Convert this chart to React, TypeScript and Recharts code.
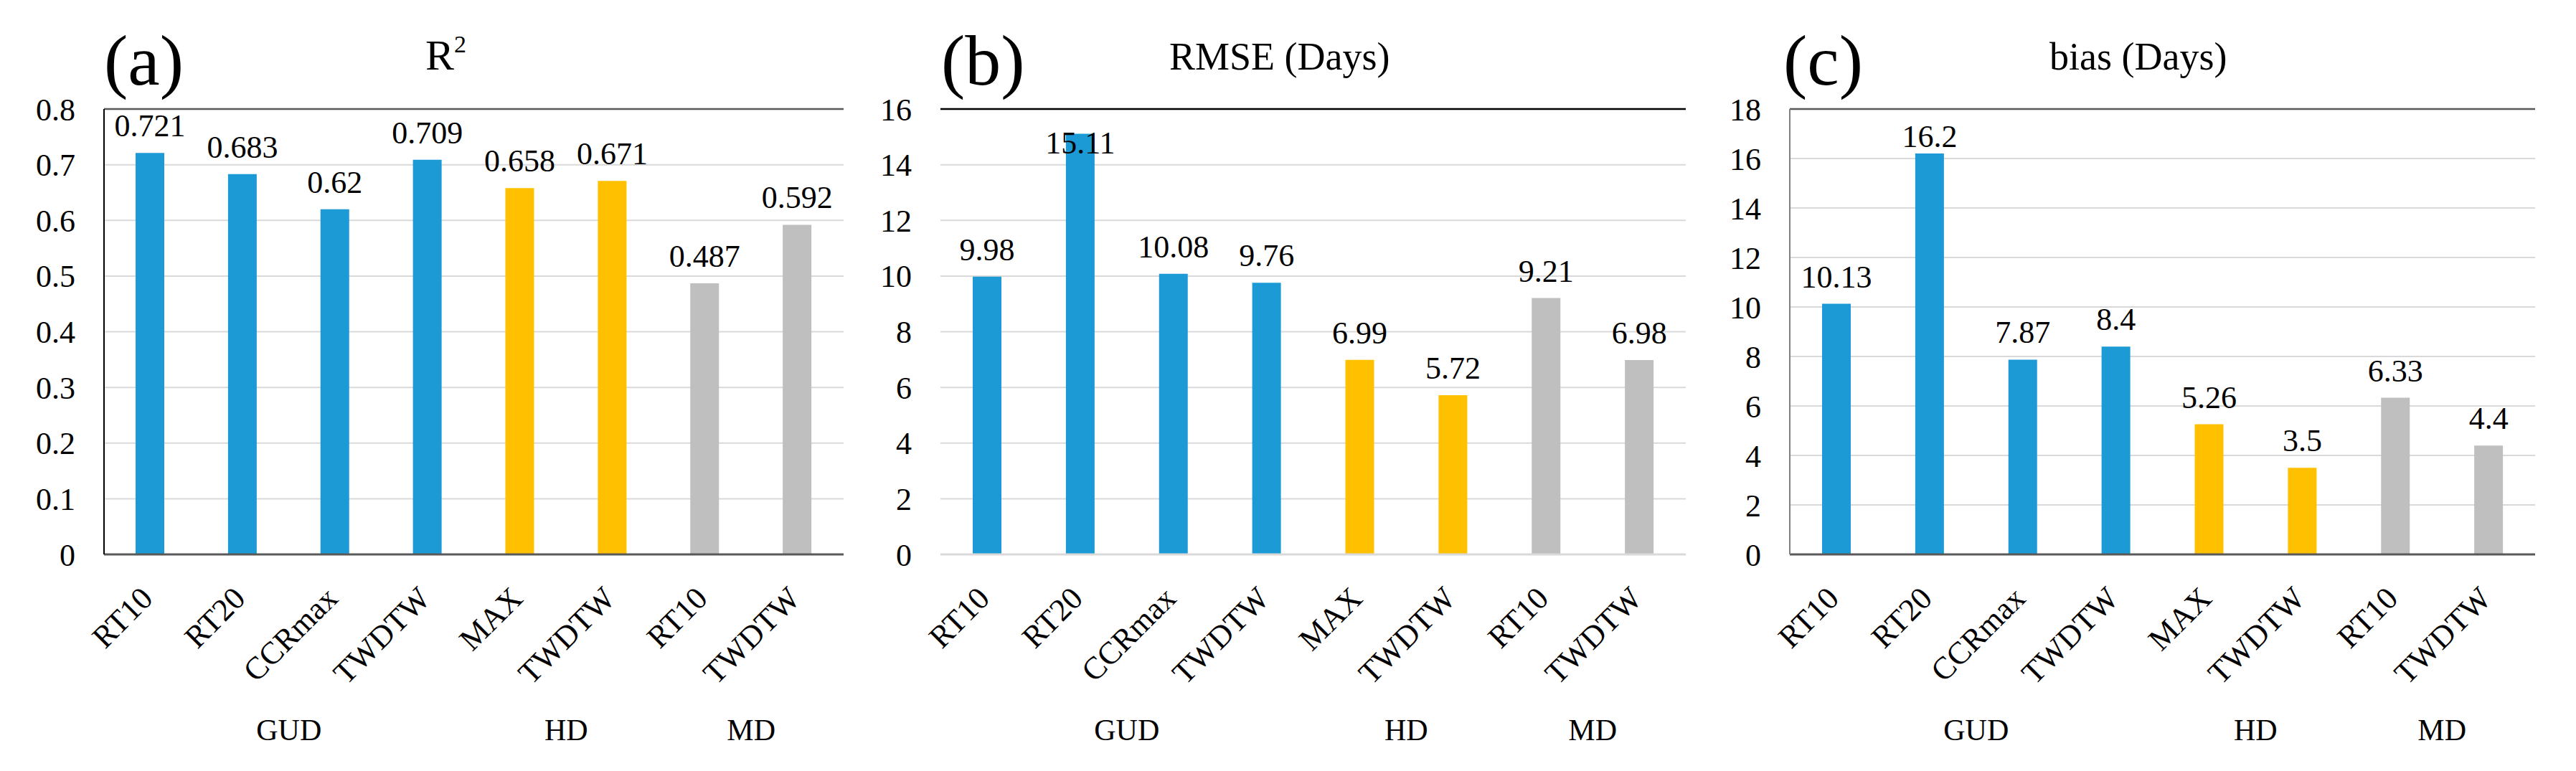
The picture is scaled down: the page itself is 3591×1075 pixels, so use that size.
import { BarChart, Bar, XAxis, YAxis, CartesianGrid, Cell, LabelList, ReferenceLine } from 'recharts';

// methods on the x axis, phase group of each bar
const methods = ['RT10', 'RT20', 'CCRmax', 'TWDTW', 'MAX', 'TWDTW', 'RT10', 'TWDTW'];
const phases = ['GUD', 'GUD', 'GUD', 'GUD', 'HD', 'HD', 'MD', 'MD'];
const groupNames = ['GUD', 'HD', 'MD'];

const r2Values = [0.721, 0.683, 0.62, 0.709, 0.658, 0.671, 0.487, 0.592];
const rmseValues = [9.98, 15.11, 10.08, 9.76, 6.99, 5.72, 9.21, 6.98];
const biasValues = [10.13, 16.2, 7.87, 8.4, 5.26, 3.5, 6.33, 4.4];

const r2Ticks = [0, 0.1, 0.2, 0.3, 0.4, 0.5, 0.6, 0.7, 0.8];
const rmseTicks = [0, 2, 4, 6, 8, 10, 12, 14, 16];
const biasTicks = [0, 2, 4, 6, 8, 10, 12, 14, 16, 18];

const phaseColors: Record<string, string> = { GUD: '#1C9AD6', HD: '#FFC000', MD: '#BFBFBF' };
const FONT = 'Liberation Serif, Times New Roman, serif';

// first index and size of each phase group
const groupInfo = groupNames.map(g => {
  const idx = phases.map((p, i) => (p === g ? i : -1)).filter(i => i >= 0);
  return { name: g, first: idx[0], size: idx.length };
});

const MethodTick = (props: any) => {
  const { x, y, payload } = props;
  const px = Number(x) + 6;
  const py = Number(y) + 64;
  return (
    <text x={px} y={py} transform={`rotate(-45, ${px}, ${py})`} textAnchor="end"
      fontFamily={FONT} fontSize={44} fill="#000">
      {methods[payload.value]}
    </text>
  );
};

// group label sits under the middle of its group of bars
const groupTick = (band: number) => (props: any) => {
  const { x, y, payload } = props;
  const g = groupInfo.find(gi => gi.first === payload.value);
  if (!g) return <g />;
  const cx = Number(x) + ((g.size - 1) * band) / 2;
  return (
    <text x={cx} y={Number(y) + 59} textAnchor="middle" fontFamily={FONT} fontSize={42} fill="#000">
      {g.name}
    </text>
  );
};

const valueLabel = (floor: number) => (props: any) => {
  const { x, y, width, value } = props;
  const baseline = Math.max(Number(y) - 23, floor);
  return (
    <text x={Number(x) + Number(width) / 2} y={baseline} textAnchor="middle" fontFamily={FONT} fontSize={44} fill="#000">
      {value}
    </text>
  );
};

interface PanelProps {
  left: number;
  width: number;
  yAxisWidth: number;
  rightMargin: number;
  values: number[];
  ticks: number[];
  labelFloor: number;
  leftLine: any;
  rightLine: any;
  topColor: string;
  baseColor: string;
}

function Panel({ left, width, yAxisWidth, rightMargin, values, ticks, labelFloor, leftLine, rightLine, topColor, baseColor }: PanelProps) {
  const data = values.map((v, i) => ({ idx: i, value: v, phase: phases[i] }));
  const yMax = ticks[ticks.length - 1];
  const band = (width - yAxisWidth - rightMargin) / values.length;
  return (
    <div style={{ position: 'absolute', left, top: 0 }}>
      <BarChart width={width} height={1075} data={data} margin={{ top: 152, right: rightMargin, bottom: 2, left: 0 }}>
        <CartesianGrid vertical={false} stroke="#D9D9D9" strokeWidth={2} />
        <XAxis dataKey="idx" type="category" height={200} tick={<MethodTick />} tickLine={false} tickSize={0} tickMargin={0}
          axisLine={{ stroke: baseColor, strokeWidth: 3 }} interval={0} />
        <XAxis xAxisId="group" dataKey="idx" type="category" height={100} interval={0}
          tick={groupTick(band)} tickLine={false} tickSize={0} tickMargin={0} axisLine={false} />
        <YAxis type="number" domain={[0, yMax]} ticks={ticks} width={yAxisWidth} tickLine={false} tickMargin={34}
          axisLine={leftLine} tick={{ fontSize: 44, fill: '#000', fontFamily: FONT }} />
        {rightLine && (
          <YAxis yAxisId="right" orientation="right" width={0} tick={false} tickLine={false} axisLine={rightLine} />
        )}
        <ReferenceLine y={yMax} stroke={topColor} strokeWidth={2.5} />
        <Bar dataKey="value" barSize={40} isAnimationActive={false}>
          {data.map(d => (
            <Cell key={d.idx} fill={phaseColors[d.phase]} />
          ))}
          <LabelList dataKey="value" content={valueLabel(labelFloor)} />
        </Bar>
      </BarChart>
    </div>
  );
}

export default function App() {
  return (
    <div style={{ position: 'absolute', left: 0, top: 0, width: 3591, height: 1075, background: '#fff', fontFamily: FONT }}>
      <Panel left={0} width={1200} yAxisWidth={145} rightMargin={24} values={r2Values} ticks={r2Ticks} labelFloor={0}
        leftLine={{ stroke: '#000', strokeWidth: 2 }} rightLine={{ stroke: '#7F7F7F', strokeWidth: 2.5 }}
        topColor="#595959" baseColor="#595959" />
      <Panel left={1190} width={1190} yAxisWidth={121} rightMargin={30} values={rmseValues} ticks={rmseTicks} labelFloor={214}
        leftLine={false} rightLine={null} topColor="#000" baseColor="#D9D9D9" />
      <Panel left={2380} width={1211} yAxisWidth={115} rightMargin={57} values={biasValues} ticks={biasTicks} labelFloor={205}
        leftLine={{ stroke: '#808080', strokeWidth: 2 }} rightLine={{ stroke: '#D9D9D9', strokeWidth: 2 }}
        topColor="#595959" baseColor="#595959" />
      <svg width={3591} height={1075} style={{ position: 'absolute', left: 0, top: 0, pointerEvents: 'none' }}>
        <g fontFamily={FONT} fill="#000">
          <text x={145} y={118} fontSize={100}>(a)</text>
          <text x={593} y={97} fontSize={60}>R<tspan dy={-24} fontSize={34}>2</tspan></text>
          <text x={1312} y={118} fontSize={100}>(b)</text>
          <text x={1630} y={97} fontSize={54}>RMSE (Days)</text>
          <text x={2486} y={118} fontSize={100}>(c)</text>
          <text x={2857} y={97} fontSize={54}>bias (Days)</text>
        </g>
      </svg>
    </div>
  );
}
